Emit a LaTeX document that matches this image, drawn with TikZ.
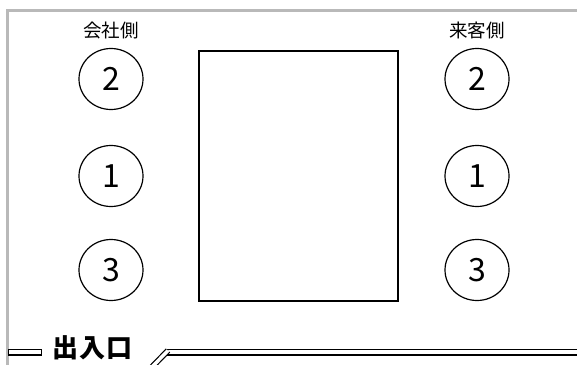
\documentclass[tikz,border=0pt]{standalone}
\usepackage{fontspec}
\usetikzlibrary{shapes.geometric}
\newfontfamily\cjk{Noto Sans CJK JP}
\begin{document}
\begin{tikzpicture}[x=1pt,y=-1pt,
  seat/.style={draw=black, line width=1.2pt, ellipse, minimum width=64pt, minimum height=61pt, inner sep=0pt, font=\cjk\fontsize{32}{32}\selectfont},
  side/.style={font=\cjk\fontsize{18.5}{18.5}\selectfont},
  wall/.style={draw=black, line width=1.3pt, fill=white}]
\useasboundingbox (0,0) rectangle (577,364);
\fill[white] (0,0) rectangle (577,364);
\draw[gray!55, line width=2.6pt] (7.5,366) -- (7.5,10.5) -- (580,10.5);
% labels
\node[side] (lc) at (111,30) {会社側};
\node[side] (rc) at (477,30) {来客側};
% seats
\node[seat] (l2) at (111,79) {2};
\node[seat] (l1) at (111,176) {1};
\node[seat] (l3) at (111,270) {3};
\node[seat] (r2) at (477,79) {2};
\node[seat] (r1) at (477,176) {1};
\node[seat] (r3) at (477,270) {3};
% table
\node[draw=black, line width=1.3pt, minimum width=199pt, minimum height=250pt, inner sep=0pt] (table) at (298.5,176) {};
% walls
\draw[wall] (8.8,349.5) rectangle (41.5,355);
\draw[wall] (167,349.5) rectangle (582,355);
\draw[black, line width=1.2pt, double=white, double distance=3.5pt] (168,350.5) -- (150,369);
\node[font=\cjk\bfseries\fontsize{26}{26}\selectfont, inner sep=0pt] (door) at (92.5,348) {出\hspace{1.5pt}入\hspace{1.5pt}口};
\end{tikzpicture}
\end{document}
